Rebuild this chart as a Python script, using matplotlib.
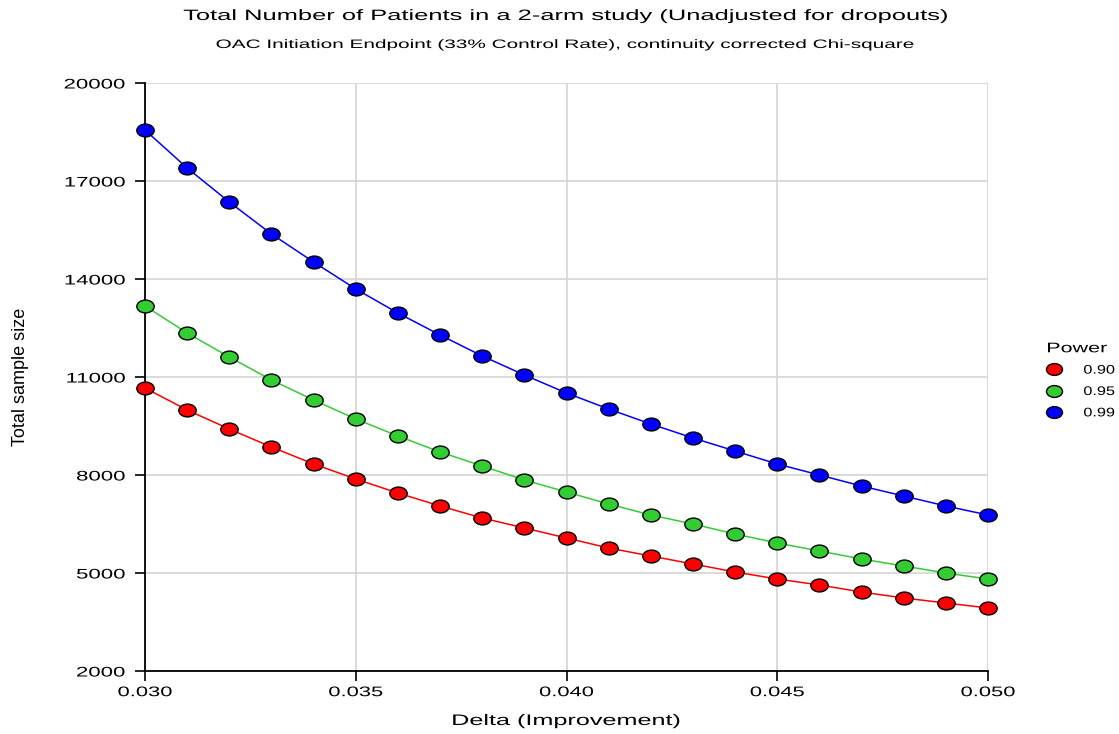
import matplotlib
matplotlib.use("Agg")
import matplotlib.pyplot as plt
import numpy as np
from matplotlib.path import Path
from matplotlib.patheffects import AbstractPathEffect
from matplotlib.transforms import Affine2D

plt.rcParams['font.family'] = ['Liberation Sans', 'DejaVu Sans']

delta = [0.030, 0.031, 0.032, 0.033, 0.034, 0.035, 0.036, 0.037, 0.038, 0.039, 0.040,
         0.041, 0.042, 0.043, 0.044, 0.045, 0.046, 0.047, 0.048, 0.049, 0.050]
power_090 = [10663, 9990, 9408, 8857, 8337, 7878, 7449, 7051, 6684, 6378, 6072,
             5765, 5520, 5276, 5031, 4816, 4633, 4418, 4235, 4082, 3929]
power_095 = [13174, 12347, 11612, 10908, 10296, 9714, 9194, 8704, 8276, 7847, 7480,
             7112, 6776, 6500, 6194, 5918, 5673, 5429, 5214, 5000, 4816]
power_099 = [18561, 17398, 16357, 15378, 14520, 13694, 12959, 12286, 11643, 11061, 10510,
             10020, 9561, 9133, 8735, 8337, 8000, 7663, 7357, 7051, 6776]
series_labels = ['0.90', '0.95', '0.99']
xticks = [0.030, 0.035, 0.040, 0.045, 0.050]
yticks = [2000, 5000, 8000, 11000, 14000, 17000, 20000]

colors = ['#FF0000', '#33CC33', '#0000FF']


class HStretch(AbstractPathEffect):
    """Stretch rendered text horizontally about an anchor (text stays a Text object)."""
    def __init__(self, sx=1.6, anchor='center'):
        super().__init__()
        self.sx = sx
        self.anchor = anchor

    def draw_path(self, renderer, gc, tpath, affine, rgbFace=None):
        ext = tpath.get_extents(affine)
        if self.anchor == 'center':
            x0 = (ext.x0 + ext.x1) / 2
        elif self.anchor == 'right':
            x0 = ext.x1
        else:
            x0 = ext.x0
        new = affine + Affine2D().translate(-x0, 0).scale(self.sx, 1).translate(x0, 0)
        renderer.draw_path(gc, tpath, new, rgbFace)


# elliptical marker
circ = Path.unit_circle()
ell = Path(circ.vertices * np.array([1.0, 0.74]), circ.codes)

fig = plt.figure(figsize=(11.19, 7.34), dpi=100)
ax = fig.add_axes([145/1119, 1-671/734, (988-145)/1119, (671-83)/734])

for ys, c, lab in zip([power_090, power_095, power_099], colors, series_labels):
    ax.plot(delta, ys, color=c, lw=1.1, marker=ell, markersize=12.5,
            markerfacecolor=c, markeredgecolor='black', markeredgewidth=1.0,
            label=lab, clip_on=False, zorder=3)

ax.set_xlim(0.030, 0.050)
ax.set_ylim(2000, 20000)
ax.set_xticks(xticks)
ax.set_xticklabels([f"{v:.3f}" for v in xticks])
ax.set_yticks(yticks)
ax.set_yticklabels([str(v) for v in yticks])
ax.grid(True, color='#d4d4d4', lw=1.2)
ax.set_axisbelow(True)
for s in ['top', 'right']:
    ax.spines[s].set_visible(False)
for s in ['left', 'bottom']:
    ax.spines[s].set_linewidth(1.3)
    ax.spines[s].set_color('black')
ax.tick_params(axis='both', length=7.2, width=1.2, labelsize=10)
ax.tick_params(axis='x', pad=3)
ax.tick_params(axis='y', pad=7)
for t in ax.get_xticklabels():
    t.set_path_effects([HStretch(1.58, 'center')])
for t in ax.get_yticklabels():
    t.set_path_effects([HStretch(1.6, 'right')])

xl = fig.text(566/1119, 1-721/734, 'Delta (Improvement)', ha='center', va='center', fontsize=11)
xl.set_path_effects([HStretch(1.65, 'center')])
fig.text(21/1119, 1-377/734, 'Total sample size', ha='center', va='center',
         fontsize=13, rotation=90)

t1 = fig.text(566/1119, 1-16/734, 'Total Number of Patients in a 2-arm study (Unadjusted for dropouts)',
              ha='center', va='center', fontsize=10.8)
t1.set_path_effects([HStretch(1.7, 'center')])
t2 = fig.text(566/1119, 1-45/734, 'OAC Initiation Endpoint (33% Control Rate), continuity corrected Chi-square',
              ha='center', va='center', fontsize=8.8)
t2.set_path_effects([HStretch(1.7, 'center')])

leg = fig.legend(loc='upper left', bbox_to_anchor=(1035/1119, 1-330/734), frameon=False,
                 title='Power', fontsize=9, title_fontsize=10, handlelength=1.28,
                 handletextpad=1.7, labelspacing=0.75, borderpad=0.4)
for h in leg.legend_handles:
    h.set_linestyle('none')
    h.set_markersize(11.5)
for t in leg.get_texts():
    t.set_path_effects([HStretch(1.3, 'left')])
leg.get_title().set_path_effects([HStretch(1.55, 'center')])

fig.savefig('out.png', dpi=100)
